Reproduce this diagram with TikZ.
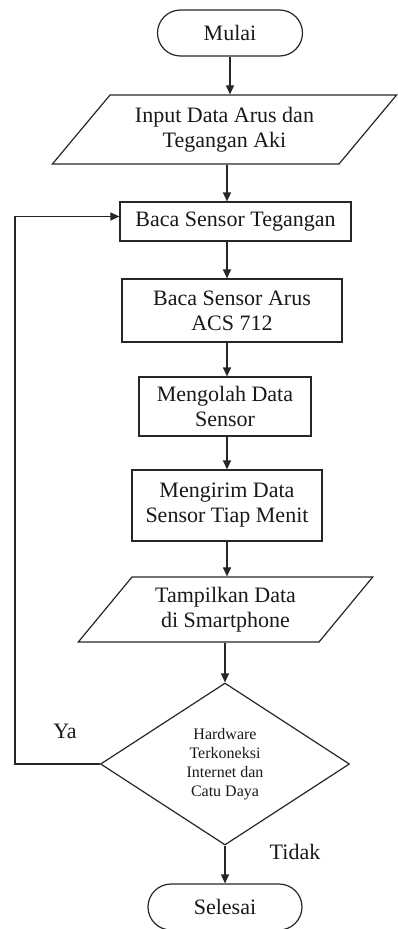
\documentclass[tikz,border=0pt]{standalone}
\usepackage{fontspec}
\setmainfont{Liberation Serif}
\usetikzlibrary{shapes.geometric,arrows.meta,calc}

\tikzset{
  line/.style={draw=black!85, line width=1.2pt},
  arr/.style={line, -{Triangle[width=8pt,length=9pt]}},
  txt/.style={font=\fontsize{22}{25}\selectfont, align=center, text=black!90},
  terminal/.style={line, txt, rectangle, rounded corners=23pt, minimum height=46pt, inner sep=0pt},
  process/.style={line, txt, rectangle, inner sep=0pt},
  iobox/.style={line, txt, trapezium, trapezium stretches=true, inner sep=0pt},
  decision/.style={line, diamond, inner sep=0pt, align=center,
    font=\fontsize{16}{19}\selectfont, text=black!90},
  lbl/.style={txt, inner sep=0pt}
}

\begin{document}
\begin{tikzpicture}[x=1pt,y=-1pt]
  \useasboundingbox (0,0) rectangle (397,929);

  % flow column used by the vertical connectors
  \coordinate (axis) at (227,0);
  \coordinate (loopc) at (15,0);

  \node[terminal, minimum width=145pt] (mulai) at (230,33) {Mulai};
  \node[iobox, trapezium left angle=45, trapezium right angle=135,
        minimum width=345pt, minimum height=69pt] (input) at (224.5,129.5)
        {Input Data Arus dan\\Tegangan Aki};
  \node[process, minimum width=231pt, minimum height=39pt] (teg) at (235.5,221.5)
        {Baca Sensor Tegangan};
  \node[process, minimum width=220pt, minimum height=63pt] (arus) at (232,310.5)
        {Baca Sensor Arus\\ACS 712};
  \node[process, minimum width=172pt, minimum height=59pt] (olah) at (225,406.5)
        {Mengolah Data\\Sensor};
  \node[process, minimum width=190pt, minimum height=71pt] (kirim) at (227,505.5)
        {Mengirim Data\\Sensor Tiap Menit};
  \node[iobox, trapezium left angle=48, trapezium right angle=132,
        minimum width=295pt, minimum height=65pt] (tampil) at (225.5,609.5)
        {Tampilkan Data\\di Smartphone};
  \node[decision, minimum width=249pt, minimum height=162pt, aspect=1.54] (dec) at (225,764)
        {Hardware\\Terkoneksi\\Internet dan\\Catu Daya};
  \node[terminal, minimum width=154pt] (selesai) at (225,907) {Selesai};

  \coordinate (tegin) at ($(teg.west)+(0,-5)$);

  % main flow
  \draw[arr] (mulai.south) -- (mulai.south |- input.north);
  \draw[arr] (input.south -| axis) -- (teg.north -| axis);
  \draw[arr] (teg.south -| axis) -- (arus.north -| axis);
  \draw[arr] (arus.south -| axis) -- (olah.north -| axis);
  \draw[arr] (olah.south -| axis) -- (kirim.north -| axis);
  \draw[arr] (kirim.south -| axis) -- (tampil.north -| axis);
  \draw[arr] (tampil.south -| dec) -- (dec.north);
  \draw[arr] (dec.south) -- (selesai.north);

  % feedback loop
  \draw[arr] (dec.west) -- (dec.west -| loopc) -- (loopc |- tegin) -- (tegin);

  \node[lbl] (ya) at (65,731) {Ya};
  \node[lbl] (tidak) at (295,852) {Tidak};
\end{tikzpicture}
\end{document}
